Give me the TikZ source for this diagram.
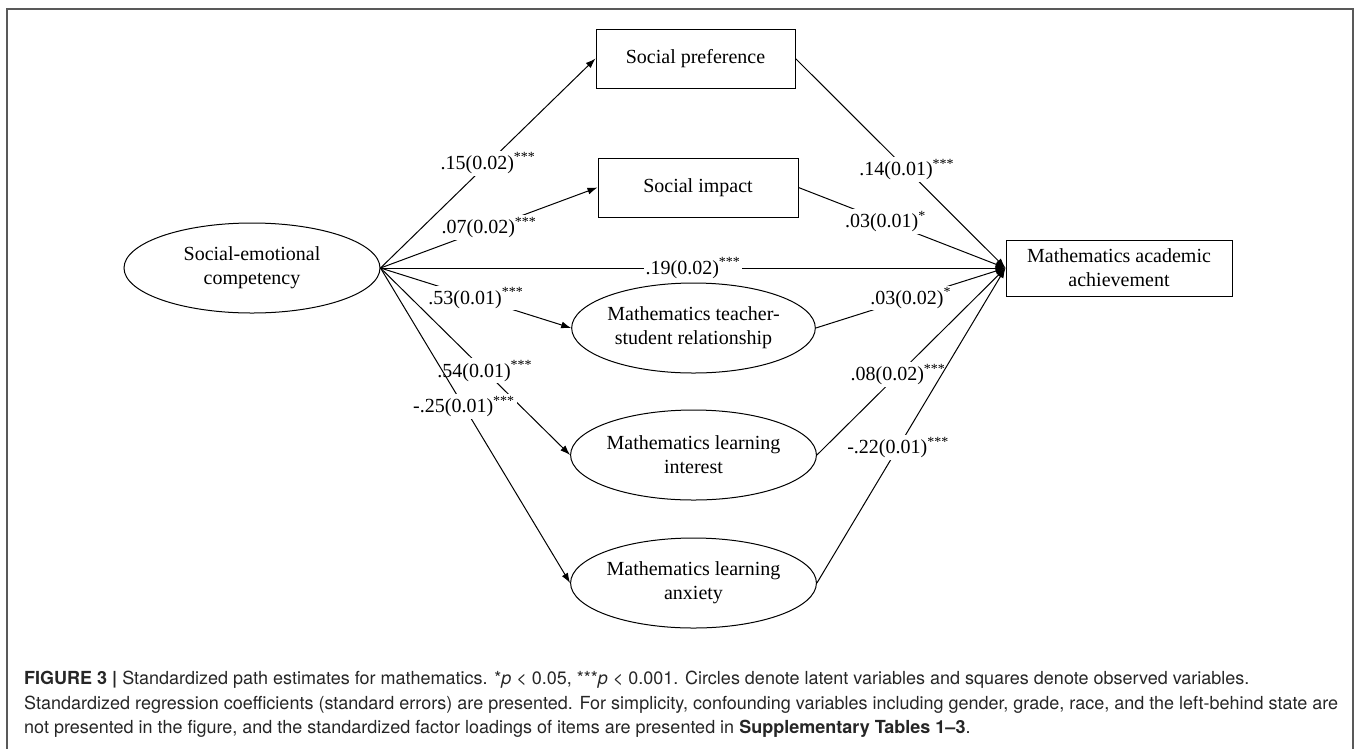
\documentclass[tikz,border=0pt]{standalone}
\usepackage{fontspec}
\setmainfont{Liberation Serif}
\newfontfamily\capfont{TeX Gyre Heros}
\usetikzlibrary{shapes.geometric, arrows.meta}

\begin{document}
\begin{tikzpicture}
[every node/.style={inner sep=0pt},
 latent/.style={ellipse, draw=black, line width=1pt, minimum width=227pt, minimum height=90pt, align=center, font=\fontsize{20}{24}\selectfont},
 observed/.style={rectangle, draw=black, line width=1pt, minimum width=200pt, minimum height=59pt, align=center, font=\fontsize{20}{24}\selectfont},
 path/.style={line width=1pt, color=black, -{Latex[length=10pt, width=7pt]}},
 lbl/.style={fill=white, inner sep=2pt, font=\fontsize{20}{24}\selectfont}]
\useasboundingbox (0pt, 0pt) rectangle (1357pt, -748pt);
\draw [line width=1.5pt, color=black!65] (7pt, -760pt) -- (7pt, -9pt) -- (1353pt, -9pt) -- (1353pt, -760pt);
\node (sec) [latent, minimum width=256pt] at (252pt, -268pt) {Social-emotional\\competency};
\node (sp) [observed, minimum width=199pt] at (695.5pt, -58.5pt) {Social preference};
\node (si) [observed] at (698pt, -187.5pt) {Social impact};
\node (maa) [observed, minimum width=226pt, minimum height=56pt] at (1119pt, -268pt) {Mathematics academic\\achievement};
\node (tsr) [latent] at (693.5pt, -328pt) {Mathematics teacher-\\student relationship};
\node (int) [latent] at (693.5pt, -455pt) {Mathematics learning\\interest};
\node (anx) [latent] at (693.5pt, -583pt) {Mathematics learning\\anxiety};
\draw [path] (sec.east) to node [lbl] (c1) {.15(0.02)\textsuperscript{***}} (sp.west);
\draw [path] (sec.east) to node [lbl] (c2) {.07(0.02)\textsuperscript{***}} (si.west);
\draw [path] (sec.east) to node [lbl, pos=0.5] (c3) {.19(0.02)\textsuperscript{***}} (maa.west);
\draw [path] (sec.east) to node [lbl] (c4) {.53(0.01)\textsuperscript{***}} (tsr.west);
\draw [path] (sec.east) to node [lbl, pos=0.55] (c5) {.54(0.01)\textsuperscript{***}} (int.west);
\draw [path] (sec.east) to node [lbl, pos=0.44] (c6) {-.25(0.01)\textsuperscript{***}} (anx.west);
\draw [path] (sp.east) to node [lbl, pos=0.53] (d1) {.14(0.01)\textsuperscript{***}} (maa.west);
\draw [path] (si.east) to node [lbl, pos=0.42] (d2) {.03(0.01)\textsuperscript{*}} (maa.west);
\draw [path] (tsr.east) to node [lbl] (d3) {.03(0.02)\textsuperscript{*}} (maa.west);
\draw [path] (int.east) to node [lbl, pos=0.43] (d4) {.08(0.02)\textsuperscript{***}} (maa.west);
\draw [path] (anx.east) to node [lbl, pos=0.43] (d5) {-.22(0.01)\textsuperscript{***}} (maa.west);
\node (cap) [anchor=north west, align=left, text=black!85, font=\capfont\fontsize{18}{24.5}\selectfont] at (24pt, -671pt) {\textbf{FIGURE 3 |} Standardized path estimates for mathematics. *\textit{p} < 0.05, ***\textit{p} < 0.001. Circles denote latent variables and squares denote observed variables.\\
Standardized regression coefficients (standard errors) are presented. For simplicity, confounding variables including gender, grade, race, and the left-behind state are\\
not presented in the figure, and the standardized factor loadings of items are presented in \textbf{Supplementary Tables 1–3}.};
\end{tikzpicture}
\end{document}
